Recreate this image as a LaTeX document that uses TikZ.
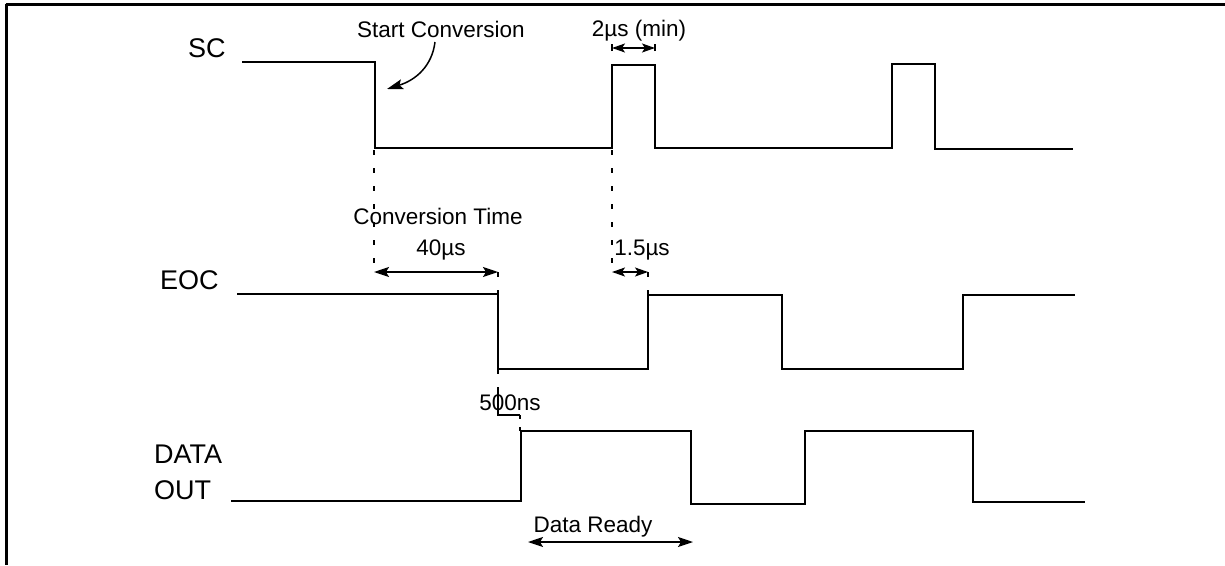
\documentclass[tikz,border=0pt]{standalone}
\usepackage{fontspec}
\setmainfont{Liberation Sans}
\usetikzlibrary{arrows.meta}
\tikzset{
  sig/.style={line width=1.8pt, line join=miter},
  guide/.style={line width=1.3pt, dash pattern=on 5pt off 13pt},
  tipbig/.tip={Stealth[length=15pt,width=10pt,inset=3pt]},
  tipsmall/.tip={Stealth[length=13pt,width=9pt,inset=3pt]},
  dim/.style={line width=1.6pt, tipbig-tipbig},
  dimsmall/.style={line width=1.6pt, tipsmall-tipsmall},
  lbl/.style={font=\fontsize{27}{30}\selectfont, inner sep=0pt, anchor=base west},
  txt/.style={font=\fontsize{22.5}{24}\selectfont, inner sep=0pt, anchor=base},
}
\begin{document}
\begin{tikzpicture}[x=1pt,y=-1pt]
\useasboundingbox (0,0) rectangle (1225,565);
% frame
\draw[line width=2.6pt] (5.5,4.2) -- (1225,4.2);
\draw[line width=2.4pt] (6.5,4.2) -- (6.5,565);

% signal labels
\node[lbl] (lsc) at (188,57) {SC};
\node[lbl] (leoc) at (160,289.5) {EOC};
\node[lbl] (ldata) at (154,463) {DATA};
\node[lbl] (lout) at (154,499) {OUT};

% waveforms
\draw[sig] (242,62) -- (375,62) -- (375,148) -- (612,148) -- (612,65) -- (655,65) -- (655,148)
  -- (892,148) -- (892,64) -- (935,64) -- (935,149) -- (1073,149);
\draw[sig] (237,294) -- (498,294) -- (498,369) -- (648,369) -- (648,295) -- (782,295) -- (782,369)
  -- (963,369) -- (963,295) -- (1075,295);
\draw[sig] (231,501) -- (521,501) -- (521,431) -- (691,431) -- (691,504) -- (805,504) -- (805,431)
  -- (973,431) -- (973,502) -- (1085,502);

% key coordinates
\coordinate (scfall) at (374,150);
\coordinate (scrise) at (612,150);
\coordinate (ctL) at (374,272);
\coordinate (ctR) at (498,272);
\coordinate (eocfall) at (498,294);
\coordinate (hsL) at (612,272);
\coordinate (hsR) at (648,272);
\coordinate (eocrise) at (648,295);
\coordinate (eoclow) at (498,369);
\coordinate (nsT) at (498,389);
\coordinate (nsL) at (498,415);
\coordinate (nsR) at (520,415);
\coordinate (datarise) at (520,431);
\coordinate (twoL) at (612,48);
\coordinate (twoR) at (655,48);
\coordinate (drL) at (528,542);
\coordinate (drR) at (693,542);
\coordinate (scA) at (435,42);
\coordinate (scB) at (387,89);

% guide lines
\draw[guide] (scfall) -- (ctL);
\draw[guide] (scrise) -- (hsL);
\draw[guide] (ctR) -- (eocfall);
\draw[guide] (hsR) -- (eocrise);
\draw[guide] (eoclow) -- (nsT);
\draw[line width=1.3pt] (nsT) -- (nsL) -- (nsR);
\draw[guide, dash pattern=on 4pt off 8pt] (nsR) -- (datarise);

% dimension arrows
\draw[dim] (ctL) -- (ctR);
\draw[dimsmall] (hsL) -- (hsR);
\draw[dimsmall] (twoL) -- (twoR);
\draw[line width=1.3pt] ([yshift=-3pt]twoL) -- ([yshift=4pt]twoL);
\draw[line width=1.3pt] ([yshift=-3pt]twoR) -- ([yshift=4pt]twoR);
\draw[dim] (drL) -- (drR);

% start conversion pointer
\draw[line width=1.5pt, -{Stealth[length=16pt,width=10pt,inset=3pt]}] (scA) .. controls (432,66) and (416,80) .. (scB);

% texts
\node[txt] (tstart) at (441,37) {Start Conversion};
\node[txt] (ttwo) at (639,36.5) {2µs (min)};
\node[txt] (tconv) at (438,224) {Conversion Time};
\node[txt] (tforty) at (441,255) {40µs};
\node[txt] (tonefive) at (642,255) {1.5µs};
\node[txt] (tns) at (510,410) {500ns};
\node[txt] (tdr) at (593,532) {Data Ready};
\end{tikzpicture}
\end{document}
